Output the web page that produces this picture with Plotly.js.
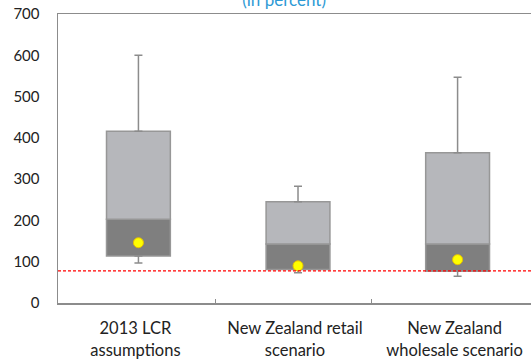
<!DOCTYPE html>
<html>
<head>
<meta charset="utf-8">
<script src="https://cdn.plot.ly/plotly-3.0.1.min.js"></script>
<style>html,body{margin:0;padding:0;background:#fff;overflow:hidden}#chart{width:531px;height:360px}</style>
</head>
<body>
<div id="chart"></div>
<script>
// ---- data ----
const categories = ["2013 LCR<br>assumptions", "New Zealand retail<br>scenario", "New Zealand<br>wholesale scenario"];
const whiskerMin = [97, 73, 65];
const q1Values   = [114, 81, 77];
const medians    = [203, 143, 143];
const q3Values   = [416, 245, 364];
const whiskerMax = [600, 283, 547];
const means      = [146, 90, 105];
const threshold  = 78;
const yTicks     = [0, 100, 200, 300, 400, 500, 600, 700];

// ---- build ----
const xIdx = categories.map((_, i) => i);
const boxW = 0.4;
const gray = '#8c8c8c';

const lowerBox = {
  type: 'bar', x: xIdx, base: q1Values,
  y: medians.map((m, i) => m - q1Values[i]),
  width: boxW,
  marker: {color: '#7f7f7f', line: {color: '#979797', width: 1.5}},
  hoverinfo: 'skip'
};
const upperBox = {
  type: 'bar', x: xIdx, base: medians,
  y: q3Values.map((q, i) => q - medians[i]),
  width: boxW,
  marker: {color: '#b6b7bb', line: {color: '#979797', width: 1.5}},
  hoverinfo: 'skip'
};
const upperWhisker = {
  type: 'scatter', mode: 'markers', x: xIdx, y: whiskerMax,
  marker: {opacity: 0},
  error_y: {type: 'data', symmetric: false, array: whiskerMax.map(() => 0),
            arrayminus: whiskerMax.map((v, i) => v - q3Values[i]),
            color: gray, thickness: 1.5, width: 4},
  hoverinfo: 'skip'
};
const lowerWhisker = {
  type: 'scatter', mode: 'markers', x: xIdx, y: whiskerMin,
  marker: {opacity: 0},
  error_y: {type: 'data', symmetric: false, arrayminus: whiskerMin.map(() => 0),
            array: whiskerMin.map((v, i) => q1Values[i] - v),
            color: gray, thickness: 1.5, width: 4},
  hoverinfo: 'skip'
};
const meanPts = {
  type: 'scatter', mode: 'markers', x: xIdx, y: means,
  marker: {color: '#ffff00', size: 10, line: {color: '#e6c200', width: 1}},
  hoverinfo: 'skip'
};

const layout = {
  width: 531, height: 360,
  margin: {l: 58, r: 0, t: 14, b: 57},
  paper_bgcolor: '#fff', plot_bgcolor: '#fff',
  showlegend: false,
  barmode: 'overlay',
  font: {family: 'Lato, "Open Sans", sans-serif', size: 15, color: '#222'},
  title: {
    text: '(in percent)',
    font: {family: 'Lato, "Open Sans", sans-serif', size: 17, color: '#2e9ad5'},
    xref: 'paper', x: 0.478, xanchor: 'center',
    yref: 'container', y: 1.0, yanchor: 'middle'
  },
  xaxis: {
    type: 'linear',
    range: [-0.504, 2.46],
    tickmode: 'array', tickvals: xIdx, ticktext: categories,
    tickfont: {size: 16.5, color: '#222'},
    ticks: '', ticklabelshift: -3, ticklabelstandoff: 10,
    showline: true, mirror: true, linecolor: gray, linewidth: 1.5,
    showgrid: false, zeroline: false,
    minor: {tickmode: 'array', tickvals: [0.48, 1.46], ticks: 'inside', ticklen: 4, tickcolor: gray, tickwidth: 1, showgrid: false},
    fixedrange: true
  },
  yaxis: {
    range: [0, 700],
    tickmode: 'array', tickvals: yTicks,
    ticks: '', ticklabelstandoff: 14,
    showline: true, linecolor: gray, linewidth: 1.5,
    showgrid: false, zeroline: false,
    fixedrange: true
  },
  shapes: [{
    type: 'line', xref: 'paper', x0: 0, x1: 1, yref: 'y', y0: threshold, y1: threshold,
    line: {color: '#ff0000', width: 1.2, dash: '3px,2px'}, layer: 'above'
  }]
};

Plotly.newPlot('chart', [lowerBox, upperBox, upperWhisker, lowerWhisker, meanPts], layout, {staticPlot: true, displayModeBar: false});
</script>
</body>
</html>
